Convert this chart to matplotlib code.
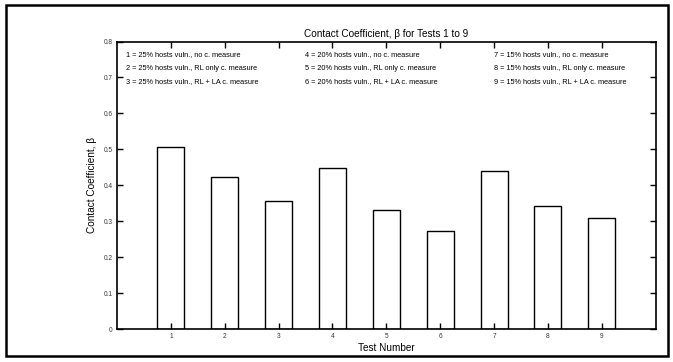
import matplotlib
matplotlib.use("Agg")
import matplotlib.pyplot as plt
from matplotlib.patches import Rectangle

tests = [1, 2, 3, 4, 5, 6, 7, 8, 9]
beta = [0.507, 0.424, 0.357, 0.448, 0.332, 0.274, 0.441, 0.342, 0.309]
yticks = [0, 0.1, 0.2, 0.3, 0.4, 0.5, 0.6, 0.7, 0.8]
ytick_labels = ["0", "0.1", "0.2", "0.3", "0.4", "0.5", "0.6", "0.7", "0.8"]
notes = [
    "1 = 25% hosts vuln., no c. measure",
    "2 = 25% hosts vuln., RL only c. measure",
    "3 = 25% hosts vuln., RL + LA c. measure",
    "4 = 20% hosts vuln., no c. measure",
    "5 = 20% hosts vuln., RL only c. measure",
    "6 = 20% hosts vuln., RL + LA c. measure",
    "7 = 15% hosts vuln., no c. measure",
    "8 = 15% hosts vuln., RL only c. measure",
    "9 = 15% hosts vuln., RL + LA c. measure",
]

plt.rcParams["font.family"] = ["Liberation Sans", "DejaVu Sans"]

fig = plt.figure(figsize=(6.73, 3.62), dpi=100)
ax = fig.add_axes([0.1738, 0.0903, 0.8005, 0.795])

ax.bar(tests, beta, width=0.5, color="white", edgecolor="black", linewidth=1.0)

ax.set_xlim(0, 10)
ax.set_ylim(0, 0.8)
ax.set_xticks(tests)
ax.set_xticklabels([str(t) for t in tests])
ax.set_yticks(yticks)
ax.set_yticklabels(ytick_labels)
ax.tick_params(direction="in", top=True, right=True, length=4, width=1,
               labelsize=4.7, labelcolor="#333333", pad=3)
for s in ax.spines.values():
    s.set_linewidth(1.2)

ax.set_title("Contact Coefficient, \u03b2 for Tests 1 to 9", fontsize=7.2, pad=3)
ax.set_xlabel("Test Number", fontsize=7.2, labelpad=2)
ax.set_ylabel("Contact Coefficient, \u03b2", fontsize=7.2, labelpad=5)

col_x = [0.17, 3.49, 6.99]
row_y = [0.765, 0.726, 0.69]
for i, txt in enumerate(notes):
    ax.text(col_x[i // 3], row_y[i % 3], txt, fontsize=5.3, va="center", ha="left")

fig.patches.append(Rectangle((0.009, 0.017), 0.984, 0.97, transform=fig.transFigure,
                             fill=False, edgecolor="black", linewidth=1.8))

fig.savefig("out.png", dpi=100)
